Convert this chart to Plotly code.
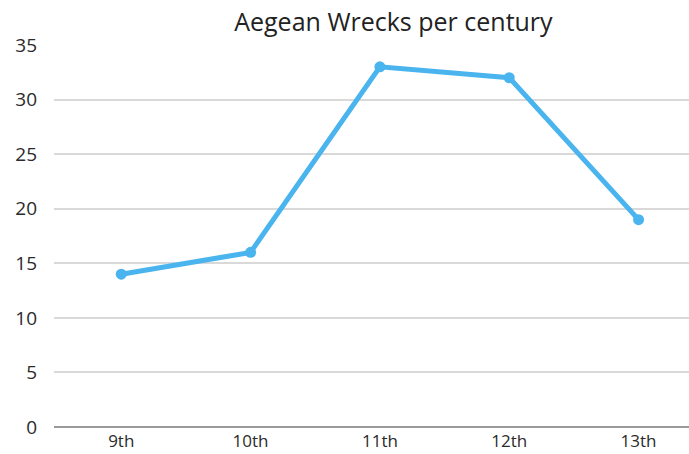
import plotly.graph_objects as go

centuries = ["9th", "10th", "11th", "12th", "13th"]
wrecks = [14, 16, 33, 32, 19]
y_ticks = [0, 5, 10, 15, 20, 25, 30, 35]

FONT = "Open Sans"
LINE_BLUE = "#4AB4EE"
TEXT = "#2B2B2B"

fig = go.Figure(
    go.Scatter(
        x=list(range(len(centuries))),
        y=wrecks,
        mode="lines+markers",
        line=dict(color=LINE_BLUE, width=5),
        marker=dict(color=LINE_BLUE, size=11),
        cliponaxis=False,
        hoverinfo="x+y",
    )
)

fig.update_layout(
    width=689,
    height=454,
    margin=dict(l=54, r=0, t=45, b=27),
    paper_bgcolor="white",
    plot_bgcolor="white",
    showlegend=False,
    font=dict(family=FONT, color=TEXT, size=18),
    title=dict(
        text="Aegean Wrecks per century",
        x=0.571,
        xanchor="center",
        y=0.952,
        yanchor="middle",
        font=dict(family=FONT, size=25, color="#222222"),
    ),
)

fig.update_xaxes(
    range=[-0.52, 4.39],
    tickmode="array",
    tickvals=list(range(len(centuries))),
    ticktext=centuries,
    showgrid=False,
    zeroline=False,
    showline=False,
    ticks="",
    automargin=False,
    ticklabelstandoff=2,
    tickfont=dict(size=17, color=TEXT),
)

fig.update_yaxes(
    range=[0, 35],
    tickmode="array",
    tickvals=y_ticks,
    showgrid=True,
    gridcolor="#D9D9D9",
    gridwidth=1.5,
    zeroline=True,
    zerolinecolor="#9A9A9A",
    zerolinewidth=2,
    showline=False,
    ticks="",
    automargin=False,
    ticklabelstandoff=16,
    tickfont=dict(size=19, color=TEXT),
)

fig.write_html("out.html")
